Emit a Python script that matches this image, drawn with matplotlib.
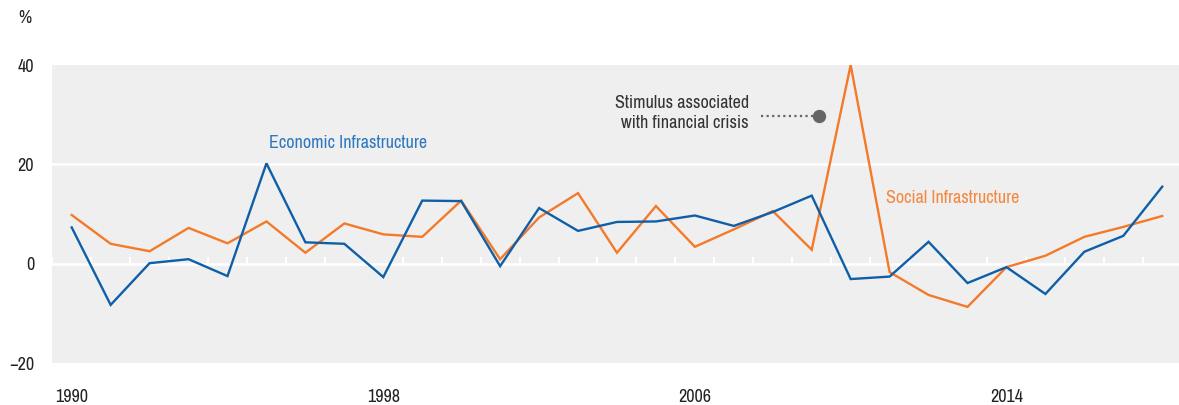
import numpy as np
import matplotlib
matplotlib.use("Agg")
import matplotlib.pyplot as plt
from matplotlib import font_manager

# annual growth, %
years = list(range(1990, 2019))
economic = [7.3, -8.3, 0.1, 0.9, -2.5, 20.2, 4.3, 4.0, -2.7, 12.7,
            12.6, -0.5, 11.2, 6.6, 8.4, 8.5, 9.7, 7.6, 10.4, 13.7,
            -3.1, -2.6, 4.4, -3.9, -0.7, -6.1, 2.4, 5.6, 15.5]
social = [9.8, 4.0, 2.5, 7.2, 4.1, 8.5, 2.2, 8.1, 5.9, 5.4,
          12.7, 0.9, 9.3, 14.2, 2.2, 11.6, 3.4, 6.9, 10.6, 2.8,
          40.0, -1.7, -6.3, -8.7, -0.7, 1.6, 5.4, 7.4, 9.6]
year_labels = [1990, 1998, 2006, 2014]
y_ticks = [-20, 0, 20, 40]

blue = '#0f5fa8'
orange = '#f47a2a'
bg = '#efefef'

# look for a narrow/condensed sans face, the original uses one
narrow = None
for f in font_manager.fontManager.ttflist:
    if f.style != 'normal' or f.weight not in (400, 'normal', 'regular'):
        continue
    if 'Narrow' in f.name or 'Condensed' in f.name:
        narrow = (f.name, 'normal')
        break
if narrow is None:
    for f in font_manager.fontManager.ttflist:
        if f.style == 'normal' and f.weight in (400, 'normal') and f.stretch in ('condensed', 'semi-condensed'):
            narrow = (f.name, f.stretch)
            break

fs = 13
if narrow is not None:
    plt.rcParams['font.family'] = [narrow[0], 'DejaVu Sans']
    plt.rcParams['font.stretch'] = narrow[1]
else:
    plt.rcParams['font.family'] = ['Liberation Sans', 'DejaVu Sans']

fig = plt.figure(figsize=(11.79, 4.05), dpi=100)
ax = fig.add_axes([0.0443, 0.1037, 0.958, 0.7358])
ax.set_facecolor(bg)
for s in ax.spines.values():
    s.set_visible(False)

ax.set_xlim(years[0] - 0.5, years[-1] + 0.5)
ax.set_ylim(-20, 40)

# white gridlines
for v in [0, 20]:
    ax.axhline(v, color='white', lw=1.8, zorder=1)

# small white ticks on the zero line at year boundaries
bounds = np.arange(years[0] - 0.5, years[-1] + 1.0, 1.0)
ax.vlines(bounds, 0, 1.3, color='white', lw=1.6, zorder=1)

ax.plot(years, social, color=orange, lw=1.7, zorder=3, solid_joinstyle='miter')
ax.plot(years, economic, color=blue, lw=1.7, zorder=4, solid_joinstyle='miter')

ax.set_xticks(year_labels)
ax.set_xticklabels([str(y) for y in year_labels])
ax.set_yticks(y_ticks)
ax.set_yticklabels(['\u221220', '0', '20', '40'])
ax.tick_params(axis='both', length=0, labelsize=fs, colors='#222222')
ax.tick_params(axis='x', pad=19)
ax.tick_params(axis='y', pad=13)

fig.text(0.0212, 0.955, '%', fontsize=fs, color='#222222', ha='center', va='center')

ax.text(1995.07, 24.3, 'Economic Infrastructure', color='#2f78bd', fontsize=fs,
        ha='left', va='center')
ax.text(2010.92, 13.3, 'Social Infrastructure', color='#f5873f', fontsize=fs,
        ha='left', va='center')

ax.text(2007.39, 30.3, 'Stimulus associated\nwith financial crisis', color='#333333',
        fontsize=fs, ha='right', va='center', linespacing=1.3)
ax.plot([2007.7, 2009.03], [29.75, 29.75], color='#666666', lw=1.6,
        linestyle=(0, (1, 1.5)), zorder=5)
ax.plot([2009.19], [29.75], 'o', color='#666666', markersize=8.6, zorder=5)

fig.savefig('out.png', dpi=100, facecolor='white')
